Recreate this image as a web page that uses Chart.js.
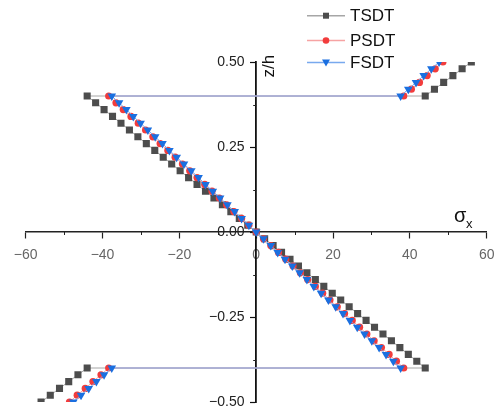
<!DOCTYPE html>
<html>
<head>
<meta charset="utf-8">
<script src="https://cdn.jsdelivr.net/npm/chart.js@4/dist/chart.umd.min.js"></script>
<style>
  html, body { margin: 0; padding: 0; background: #fff; }
  #wrap { width: 495px; height: 410px; }
</style>
</head>
<body>
<div id="wrap"><canvas id="chart"></canvas></div>
<script>
// z/h positions: bottom face, core, top face
const zPos = [
  -0.5, -0.48, -0.46, -0.44, -0.42, -0.4,
  -0.4, -0.38, -0.36, -0.34, -0.32, -0.3, -0.28, -0.26, -0.24, -0.22, -0.2,
  -0.18, -0.16, -0.14, -0.12, -0.1, -0.08, -0.06, -0.04, -0.02, 0,
  0.02, 0.04, 0.06, 0.08, 0.1, 0.12, 0.14, 0.16, 0.18, 0.2,
  0.22, 0.24, 0.26, 0.28, 0.3, 0.32, 0.34, 0.36, 0.38, 0.4,
  0.4, 0.42, 0.44, 0.46, 0.48, 0.5
];
const sigmaTSDT = [
  -56, -53.6, -51.2, -48.8, -46.4, -44,
  44, 41.8, 39.6, 37.4, 35.2, 33, 30.8, 28.6, 26.4, 24.2, 22,
  19.8, 17.6, 15.4, 13.2, 11, 8.8, 6.6, 4.4, 2.2, 0,
  -2.2, -4.4, -6.6, -8.8, -11, -13.2, -15.4, -17.6, -19.8, -22,
  -24.2, -26.4, -28.6, -30.8, -33, -35.2, -37.4, -39.6, -41.8, -44,
  44, 46.4, 48.8, 51.2, 53.6, 56
];
const sigmaPSDT = [
  -48.6, -46.6, -44.5, -42.5, -40.4, -38.4,
  38.4, 36.5, 34.6, 32.6, 30.7, 28.8, 26.9, 25, 23, 21.1, 19.2,
  17.3, 15.4, 13.4, 11.5, 9.6, 7.7, 5.8, 3.8, 1.9, 0,
  -1.9, -3.8, -5.8, -7.7, -9.6, -11.5, -13.4, -15.4, -17.3, -19.2,
  -21.1, -23, -25, -26.9, -28.8, -30.7, -32.6, -34.6, -36.5, -38.4,
  38.4, 40.4, 42.5, 44.5, 46.6, 48.6
];
const sigmaFSDT = [
  -47.6, -45.6, -43.6, -41.6, -39.6, -37.6,
  37.6, 35.7, 33.8, 32, 30.1, 28.2, 26.3, 24.4, 22.6, 20.7, 18.8,
  16.9, 15, 13.2, 11.3, 9.4, 7.5, 5.6, 3.8, 1.9, 0,
  -1.9, -3.8, -5.6, -7.5, -9.4, -11.3, -13.2, -15, -16.9, -18.8,
  -20.7, -22.6, -24.4, -26.3, -28.2, -30.1, -32, -33.8, -35.7, -37.6,
  37.6, 39.6, 41.6, 43.6, 45.6, 47.6
];
const seriesNames = ['TSDT', 'PSDT', 'FSDT'];
const xMinorTicks = [-50, -30, -10, 10, 30, 50];
const yMinorTicks = [-0.375, -0.125, 0.125, 0.375];

const FONT = 'Arial, "Liberation Sans", sans-serif';
const minus = s => String(s).replace('-', '\u2212');

function pts(xs){ return xs.map((x, i) => ({ x: x, y: zPos[i] })); }

const styles = [
  { marker: '#4d4d4d', line: '#a6a6a6', shape: 'rect', r: 5, rot: 0 },
  { marker: '#f23c3c', line: '#f6a3a3', shape: 'circle', r: 3.6, rot: 0 },
  { marker: '#1a6fe0', line: '#78a9ee', shape: 'triangle', r: 5, rot: 180 }
];
const allData = [sigmaTSDT, sigmaPSDT, sigmaFSDT];

const datasets = seriesNames.map((name, i) => ({
  label: name,
  data: pts(allData[i]),
  showLine: true,
  borderColor: styles[i].line,
  borderWidth: 1,
  backgroundColor: styles[i].marker,
  pointBackgroundColor: styles[i].marker,
  pointBorderColor: styles[i].marker,
  pointBorderWidth: 0,
  pointStyle: styles[i].shape,
  pointRadius: styles[i].r,
  pointRotation: styles[i].rot,
  order: 2 - i
}));

// minor ticks, axis titles and legend
const extras = {
  id: 'extras',
  afterDraw(chart){
    const ctx = chart.ctx;
    const xs = chart.scales.x, ys = chart.scales.y;
    const x0 = xs.getPixelForValue(0), y0 = ys.getPixelForValue(0);
    ctx.save();
    ctx.strokeStyle = '#222';
    ctx.lineWidth = 1;
    xMinorTicks.forEach(v => {
      const px = Math.round(xs.getPixelForValue(v)) + 0.5;
      ctx.beginPath(); ctx.moveTo(px, y0); ctx.lineTo(px, y0 + 3); ctx.stroke();
    });
    yMinorTicks.forEach(v => {
      const py = Math.round(ys.getPixelForValue(v)) + 0.5;
      ctx.beginPath(); ctx.moveTo(x0, py); ctx.lineTo(x0 - 3, py); ctx.stroke();
    });

    // axis titles
    ctx.fillStyle = '#111';
    ctx.textBaseline = 'alphabetic';
    ctx.font = '20px ' + FONT;
    ctx.textAlign = 'left';
    const sx = xs.getPixelForValue(51.5);
    ctx.fillText('\u03c3', sx, y0 - 10);
    ctx.font = '13px ' + FONT;
    ctx.fillText('x', sx + 12, y0 - 4);

    ctx.save();
    ctx.translate(x0 + 18, ys.getPixelForValue(0.488));
    ctx.rotate(-Math.PI / 2);
    ctx.font = '17px ' + FONT;
    ctx.textAlign = 'center';
    ctx.fillText('z/h', 0, 0);
    ctx.restore();

    // legend
    const rows = [15.7, 40.5, 62.5];
    seriesNames.forEach((name, i) => {
      const y = rows[i], st = styles[i];
      ctx.strokeStyle = st.line;
      ctx.lineWidth = 1.5;
      ctx.beginPath(); ctx.moveTo(307, y); ctx.lineTo(345, y); ctx.stroke();
      ctx.fillStyle = st.marker;
      ctx.beginPath();
      if (st.shape === 'rect') ctx.rect(323, y - 3, 6, 6);
      else if (st.shape === 'circle') ctx.arc(326, y, 3.3, 0, Math.PI * 2);
      else { ctx.moveTo(322, y - 3); ctx.lineTo(330, y - 3); ctx.lineTo(326, y + 4); ctx.closePath(); }
      ctx.fill();
      ctx.fillStyle = '#111';
      ctx.font = '17px ' + FONT;
      ctx.textAlign = 'left';
      ctx.textBaseline = 'middle';
      ctx.fillText(name, 350, y + 1);
    });
    ctx.restore();
  }
};

new Chart(document.getElementById('chart'), {
  type: 'scatter',
  data: { datasets },
  options: {
    responsive: true,
    maintainAspectRatio: false,
    animation: false,
    layout: { padding: { left: 25.7, right: 8.3, top: 62, bottom: 8 } },
    plugins: { legend: { display: false }, tooltip: { enabled: false } },
    scales: {
      x: {
        type: 'linear',
        position: { y: 0 },
        min: -60, max: 60,
        afterFit: s => { s.paddingLeft = 0; s.paddingRight = 0; },
        border: { display: true, color: '#222', width: 1.5 },
        grid: { drawOnChartArea: false, drawTicks: true, tickLength: 6, tickColor: '#222', tickWidth: 1.2 },
        ticks: {
          stepSize: 20,
          color: '#666',
          font: { family: FONT, size: 14 },
          padding: 9,
          maxRotation: 0,
          callback: v => minus(v)
        }
      },
      y: {
        type: 'linear',
        position: { x: 0 },
        min: -0.5, max: 0.5,
        afterFit: s => { s.paddingTop = 0; s.paddingBottom = 0; },
        border: { display: true, color: '#111', width: 1.8 },
        grid: { drawOnChartArea: false, drawTicks: true, tickLength: 5, tickColor: '#111', tickWidth: 1.2 },
        ticks: {
          stepSize: 0.25,
          color: '#222',
          font: { family: FONT, size: 14 },
          padding: 4,
          // labels of a centred axis sit flush on the line; pad them with spaces
          callback: v => minus(Number(v).toFixed(2)) + '   '
        }
      }
    }
  },
  plugins: [extras]
});
</script>
</body>
</html>
